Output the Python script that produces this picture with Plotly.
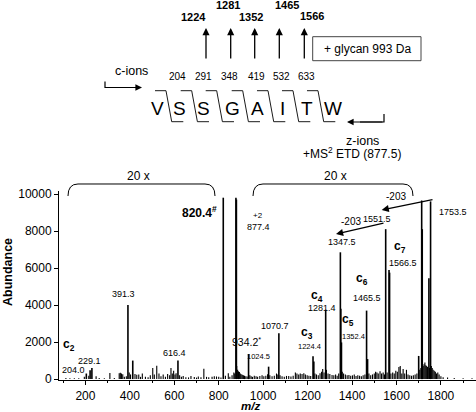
import plotly.graph_objects as go

# ---------------- data ----------------
# labelled / major peaks (m/z, abundance)
major_mz = [204.0, 221.0, 229.1, 391.3, 413.0, 616.4, 820.4, 877.4, 879.5, 934.2,
            1024.5, 1070.7, 1224.4, 1228.0, 1281.4, 1347.5, 1349.5, 1352.4, 1465.5,
            1470.0, 1551.5, 1566.5, 1569.0, 1700.0, 1713.5, 1716.0, 1746.0, 1753.5]
major_ab = [300, 480, 600, 4000, 1000, 1000, 9800, 9800, 9700, 1350,
            670, 2470, 1240, 950, 3750, 6850, 3800, 1980, 3700,
            1080, 8100, 5900, 5750, 1250, 9650, 8100, 5450, 9600]

# minor peaks / baseline noise (m/z, abundance)
minor_mz = [112, 130, 150, 170, 195, 215, 248, 262, 285, 310, 330, 352, 357, 362, 368, 375,
            384, 397, 403, 423, 431, 440, 448, 456, 470, 482, 492, 503, 510, 521, 531,
            540, 550, 560, 570, 579, 585, 591, 597, 603, 608, 624, 632, 640, 652, 664,
            675, 690, 700, 708, 720, 733, 745, 755, 770, 780, 790, 800, 810, 830, 843,
            850, 860, 868, 872, 881, 885, 889, 893, 897, 901, 906, 911, 916, 922, 928,
            940, 946, 952, 960, 968, 975, 985, 995, 1003, 1012, 1020, 1030, 1040, 1050,
            1060, 1066, 1076, 1085, 1095, 1105, 1115, 1125, 1135, 1145, 1152, 1160, 1167,
            1175, 1183, 1190, 1198, 1206, 1214, 1233, 1240, 1248, 1256, 1263, 1268, 1274,
            1285, 1292, 1300, 1310, 1318, 1326, 1333, 1340, 1356, 1362, 1370, 1378, 1386,
            1394, 1402, 1410, 1418, 1426, 1434, 1442, 1450, 1458, 1476, 1484, 1492, 1500,
            1506, 1512, 1518, 1526, 1533, 1540, 1546, 1558, 1575, 1583, 1590, 1597, 1604,
            1611, 1617, 1624, 1630, 1637, 1645, 1652, 1660, 1668, 1676, 1684, 1692, 1705,
            1710, 1720, 1724, 1728, 1732, 1736, 1740, 1749, 1757, 1761, 1765, 1770, 1775,
            1780, 1786, 1792, 1800, 1810, 1830, 1860, 1900, 1940]
minor_ab = [60, 40, 50, 45, 120, 180, 150, 60, 50, 330, 60, 320, 340, 300, 260, 120,
            150, 350, 250, 280, 230, 250, 120, 300, 120, 100, 200, 600, 250, 720, 300,
            150, 250, 120, 280, 200, 600, 300, 450, 250, 320, 200, 120, 160, 100, 90,
            160, 110, 80, 140, 100, 560, 120, 100, 130, 150, 140, 120, 90, 180, 310,
            120, 200, 350, 300, 700, 500, 420, 380, 300, 260, 230, 200, 180, 150, 140,
            200, 150, 120, 180, 150, 120, 160, 200, 150, 180, 260, 200, 150, 180,
            300, 250, 200, 150, 130, 170, 160, 140, 180, 350, 300, 250, 300,
            280, 320, 250, 200, 180, 160, 300, 250, 200, 320, 400, 550, 350,
            500, 300, 280, 220, 200, 250, 180, 300, 400, 300, 250, 200, 220,
            180, 200, 250, 170, 200, 180, 150, 200, 250, 300, 200, 250, 300,
            400, 350, 300, 420, 300, 350, 250, 350, 300, 350, 300, 450, 400,
            650, 700, 300, 550, 300, 500, 250, 200, 180, 200, 250, 300, 500,
            600, 700, 800, 900, 750, 700, 650, 600, 700, 600, 500, 450, 400,
            300, 350, 250, 150, 100, 80, 60, 50, 40]

x_ticks = [200, 400, 600, 800, 1000, 1200, 1400, 1600, 1800]
y_ticks = [0, 2000, 4000, 6000, 8000, 10000]

# peak labels: (text, m/z, abundance, size, bold)
peak_labels = [
    ("820.4<sup>#</sup>", 715.6, 9043, 12, True),
    ("+2", 978, 8864, 8, False),
    ("877.4", 978, 8232, 9, False),
    ("-203", 1598, 9853, 10, False),
    ("1713.5", 1765.5, 10432, 9, False),
    ("1753.5", 1853, 9043, 9, False),
    ("-203", 1396, 8502, 10, False),
    ("1551.5", 1513, 8632, 9, False),
    ("1347.5", 1353, 7421, 9, False),
    ("c<sub>7</sub>", 1615.7, 7151, 12, True),
    ("1566.5", 1630.5, 6254, 9, False),
    ("c<sub>6</sub>", 1443, 5389, 12, True),
    ("1465.5", 1468.5, 4362, 9, False),
    ("c<sub>4</sub>", 1243.5, 4500, 12, True),
    ("1281.4", 1263, 3850, 9, False),
    ("c<sub>5</sub>", 1383, 3189, 12, True),
    ("1352.4", 1405.5, 2324, 7.5, False),
    ("c<sub>3</sub>", 1196, 2470, 12, True),
    ("1224.4", 1210.6, 1746, 7.5, False),
    ("1070.7", 1053, 2881, 9, False),
    ("934.2<sup>*</sup>", 925.7, 2016, 10.5, False),
    ("1024.5", 978, 1205, 7.5, False),
    ("391.3", 373.5, 4594, 9, False),
    ("616.4", 603, 1421, 9, False),
    ("c<sub>2</sub>", 124, 1838, 12, True),
    ("229.1", 217, 973, 9, False),
    ("204.0", 145, 486, 9, False),
]

# peptide diagram
sequence = ["V", "S", "S", "G", "A", "I", "T", "W"]
c_ion_masses = ["204", "291", "348", "419", "532", "633"]
glyco_masses = ["1224", "1281", "1352", "1465", "1566"]

# ---------------- figure ----------------
FONT = "Liberation Sans, Arial, sans-serif"
W, H = 476, 412
ML, MR, MT, MB = 59, 0, 191, 32
PW, PH = W - ML - MR, H - MT - MB


def P(px, py):
    return (px - ML) / PW, (H - MB - py) / PH


def sticks(mz, ab):
    xs, ys = [], []
    for m, a in zip(mz, ab):
        xs += [m, m, None]
        ys += [0, a, None]
    return xs, ys


fig = go.Figure()
xs, ys = sticks(minor_mz, minor_ab)
fig.add_trace(go.Scatter(x=xs, y=ys, mode="lines", line=dict(color="black", width=1.1),
                         hoverinfo="skip", showlegend=False))
xs, ys = sticks(major_mz, major_ab)
fig.add_trace(go.Scatter(x=xs, y=ys, mode="lines", line=dict(color="black", width=1.6),
                         hoverinfo="skip", showlegend=False))

ann = []
shapes = []

for text, m, a, size, bold in peak_labels:
    t = f"<b>{text}</b>" if bold else text
    ann.append(dict(x=m, y=a, xref="x", yref="y", text=t, showarrow=False,
                    font=dict(family=FONT, size=size, color="black"),
                    xanchor="center", yanchor="middle"))


def txt(s, px, py, size, bold=False, italic=False, angle=0):
    x, y = P(px, py)
    if bold:
        s = f"<b>{s}</b>"
    if italic:
        s = f"<i>{s}</i>"
    ann.append(dict(x=x, y=y, xref="paper", yref="paper", text=s, showarrow=False,
                    font=dict(family=FONT, size=size, color="black"),
                    xanchor="center", yanchor="middle", textangle=angle))


def arrow(hx, hy, tx, ty, width=1.3):
    x, y = P(hx, hy)
    ann.append(dict(x=x, y=y, xref="paper", yref="paper", ax=tx - hx, ay=ty - hy,
                    text="", showarrow=True, arrowhead=2, arrowsize=1.1,
                    arrowwidth=width, arrowcolor="black"))


def path(points, width=1.0, color="black"):
    d = ""
    for i, (px, py) in enumerate(points):
        x, y = P(px, py)
        d += ("M" if i == 0 else "L") + f"{x:.5f},{y:.5f} "
    shapes.append(dict(type="path", path=d, xref="paper", yref="paper",
                       line=dict(color=color, width=width)))


def bracket(x0, x1, ytop, ybot, r=10):
    a = P(x0, ybot); b = P(x0, ytop); c = P(x0 + r, ytop)
    d_ = P(x1 - r, ytop); e = P(x1, ytop); f = P(x1, ybot)
    d = (f"M{a[0]:.5f},{a[1]:.5f} Q{b[0]:.5f},{b[1]:.5f} {c[0]:.5f},{c[1]:.5f} "
         f"L{d_[0]:.5f},{d_[1]:.5f} Q{e[0]:.5f},{e[1]:.5f} {f[0]:.5f},{f[1]:.5f}")
    shapes.append(dict(type="path", path=d, xref="paper", yref="paper",
                       line=dict(color="black", width=1.0)))


# axis titles
txt("Abundance", 8, 272, 12.5, bold=True, angle=-90)
txt("m/z", 250, 405.5, 11.5, bold=True, italic=True)

# arrows between peaks (-203)
arrow(381.7, 210, 434, 199.3)
arrow(336, 234, 385, 222.7)

# 20 x brackets
bracket(68, 215, 184, 196)
bracket(253, 413, 184, 196)
txt("20 x", 138, 176, 12)
txt("20 x", 335, 176, 12)

txt("+MS<sup>2</sup> ETD (877.5)", 352, 153, 12)
txt("z-ions", 362, 141, 12.5)
txt("c-ions", 131, 71, 12.5)

# glycan masses & arrows
glyco_pos = [(193, 17), (228, 5), (251, 17), (287, 5), (312, 16)]
arrow_x = [206, 230.7, 254.7, 279.3, 304.3]
for s, (px, py) in zip(glyco_masses, glyco_pos):
    txt(s, px, py, 11, bold=True)
for ax_ in arrow_x:
    arrow(ax_, 28, ax_, 60)

# glycan box
b0 = P(312.7, 36.7); b1 = P(421, 60.7)
shapes.append(dict(type="rect", xref="paper", yref="paper", x0=b0[0], y0=b1[1], x1=b1[0], y1=b0[1],
                   line=dict(color="#444", width=1.0)))
txt("+ glycan 993 Da", 367, 49, 12)

# c-ion masses
c_pos = [177, 203, 229, 256, 281.7, 306.7]
for s, px in zip(c_ion_masses, c_pos):
    txt(s, px, 76, 10)

# sequence letters
letter_x = [157, 179.5, 203.7, 232.5, 257, 282, 307, 332.5]
for s, px in zip(sequence, letter_x):
    txt(s, px, 108, 19)

# cleavage separators
for s in [166, 191.7, 216.7, 242.7, 268, 293, 318]:
    path([(s - 11, 90.7), (s, 90.7), (s + 5.7, 121.7), (s + 17.3, 121.7)], width=0.9)

# c-ion arrow
path([(105, 81.5), (105, 87.5), (130, 87.5)], width=1.2)
arrow(142, 87.5, 105, 87.5, width=1.2)
# z-ion arrow
path([(384, 114), (384, 122), (360, 122)], width=1.2)
arrow(347, 122, 384, 122, width=1.2)

fig.update_layout(
    width=W, height=H, autosize=False,
    margin=dict(l=ML, r=MR, t=MT, b=MB, pad=0),
    plot_bgcolor="white", paper_bgcolor="white",
    font=dict(family=FONT, size=12, color="black"),
    annotations=ann, shapes=shapes, showlegend=False,
    xaxis=dict(range=[81, 1958], tickmode="array", tickvals=x_ticks,
               ticks="outside", ticklen=4, tickwidth=1, tickcolor="black",
               showline=True, linecolor="black", linewidth=1.2, showgrid=False,
               zeroline=False, tickfont=dict(family=FONT, size=12), automargin=False,
               minor=dict(dtick=100, tick0=0, ticks="outside", ticklen=2, tickcolor="black")),
    yaxis=dict(range=[-50, 10162], tickmode="array", tickvals=y_ticks, tickformat="d",
               ticks="outside", ticklen=4, tickwidth=1, tickcolor="black",
               showline=True, linecolor="black", linewidth=1, showgrid=False,
               zeroline=False, tickfont=dict(family=FONT, size=12), automargin=False),
)

fig.write_html(
    "out.html",
    config={"displayModeBar": False, "staticPlot": True},
    post_script="document.body.style.margin='0';document.body.style.overflow='hidden';",
)
